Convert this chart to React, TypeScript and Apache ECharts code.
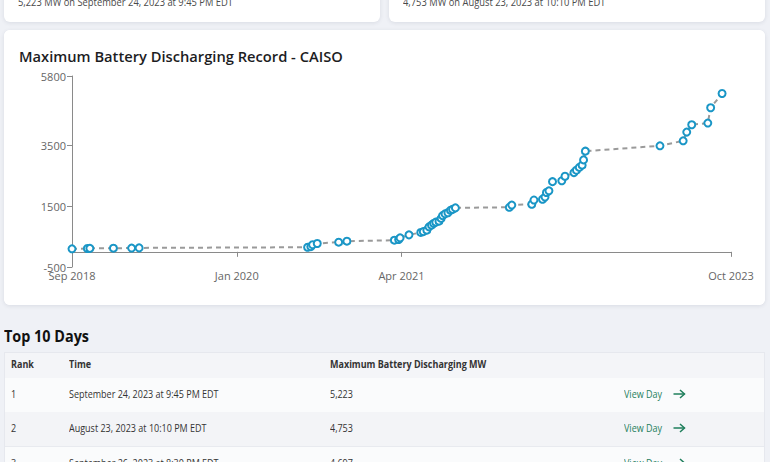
import React, { useEffect, useRef } from "react";
import * as echarts from "echarts";

// Record dates (UTC) and the record discharge value (MW) at each date
const recordDates = [
  "2018-09-29", "2018-11-11", "2018-11-18", "2019-01-23", "2019-03-15", "2019-04-05",
  "2020-07-20", "2020-07-29", "2020-08-03", "2020-08-16", "2020-10-15", "2020-11-07",
  "2021-03-20", "2021-04-01", "2021-04-05", "2021-04-30",
  "2021-06-02", "2021-06-09", "2021-06-19", "2021-06-25", "2021-07-02", "2021-07-08", "2021-07-14", "2021-07-23",
  "2021-07-29", "2021-08-02", "2021-08-09", "2021-08-17", "2021-08-24", "2021-08-30", "2021-09-07",
  "2022-02-05", "2022-02-12", "2022-04-09", "2022-04-15", "2022-05-09", "2022-05-16", "2022-05-20", "2022-05-27",
  "2022-06-06", "2022-07-02", "2022-07-11", "2022-08-05", "2022-08-12", "2022-08-20", "2022-08-28", "2022-09-01", "2022-09-06",
  "2023-04-03", "2023-06-07", "2023-06-17", "2023-07-01", "2023-08-15", "2023-08-23", "2023-09-24",
];
const recordValues = [
  100, 110, 115, 120, 125, 130,
  152, 170, 235, 275, 318, 351,
  384, 407, 460, 560,
  639, 666, 715, 825, 881, 937, 980, 1013,
  1103, 1195, 1252, 1290, 1371, 1400, 1450,
  1470, 1543, 1570, 1709, 1735, 1808, 1957, 2013,
  2315, 2344, 2493, 2613, 2692, 2785, 2858, 3033, 3321,
  3497, 3662, 3950, 4192, 4248, 4753, 5223,
];

const xAxisStart = "2018-09-29";
const xAxisEnd = "2023-10-19";
const xTickFractions = [0, 0.25, 0.5, 1];
const yMin = -500;
const yMax = 5800;
const yTickValues = [-500, 1500, 3500, 5800];

const summaryCards = [
  "5,223 MW on September 24, 2023 at 9:45 PM EDT",
  "4,753 MW on August 23, 2023 at 10:10 PM EDT",
];

const tableHeaders = ["Rank", "Time", "Maximum Battery Discharging MW", ""];
const tableRanks = ["1", "2", "3"];
const tableTimes = [
  "September 24, 2023 at 9:45 PM EDT",
  "August 23, 2023 at 10:10 PM EDT",
  "September 26, 2023 at 8:30 PM EDT",
];
const tableValues = ["5,223", "4,753", "4,697"];

const MONTHS = ["Jan", "Feb", "Mar", "Apr", "May", "Jun", "Jul", "Aug", "Sep", "Oct", "Nov", "Dec"];
const FONT = "'Open Sans', 'Noto Sans', sans-serif";

function Chart() {
  const ref = useRef<HTMLDivElement>(null);
  useEffect(() => {
    if (!ref.current) return;
    const chart = echarts.init(ref.current, null, { renderer: "svg" });
    const t0 = new Date(xAxisStart).getTime();
    const t1 = new Date(xAxisEnd).getTime();
    const xTicks = xTickFractions.map((f) => t0 + (t1 - t0) * f);
    const data = recordDates.map((d, i) => [new Date(d).getTime(), recordValues[i]]);
    chart.setOption({
      animation: false,
      backgroundColor: "#ffffff",
      title: {
        text: "Maximum Battery Discharging Record - CAISO",
        left: 10,
        top: 13,
        textStyle: { fontFamily: FONT, fontSize: 14.7, fontWeight: 600, color: "#1d1d1f" },
      },
      grid: { left: 68, right: 34, top: 46, bottom: 38 },
      xAxis: {
        type: "value",
        min: t0,
        max: t1,
        splitLine: { show: false },
        axisLine: { show: true, lineStyle: { color: "#8a8a8a", width: 1 } },
        axisTick: { show: true, customValues: xTicks, length: 5, lineStyle: { color: "#8a8a8a" } },
        axisLabel: {
          customValues: xTicks,
          color: "#666",
          fontFamily: FONT,
          fontSize: 11,
          margin: 3,
          formatter: (v: number) => {
            const d = new Date(v);
            return MONTHS[d.getUTCMonth()] + " " + d.getUTCFullYear();
          },
        },
      },
      yAxis: {
        type: "value",
        min: yMin,
        max: yMax,
        splitLine: { show: false },
        axisLine: { show: true, lineStyle: { color: "#8a8a8a", width: 1 } },
        axisTick: { show: true, customValues: yTickValues, length: 5, lineStyle: { color: "#8a8a8a" } },
        axisLabel: {
          customValues: yTickValues,
          color: "#666",
          fontFamily: FONT,
          fontSize: 11,
          margin: 6,
          formatter: (v: number) => String(v),
        },
      },
      series: [
        {
          type: "line",
          data,
          symbol: "emptyCircle",
          symbolSize: 7,
          showAllSymbol: true,
          clip: false,
          itemStyle: { color: "#1a96c6", borderWidth: 2 },
          lineStyle: { color: "#9a9a9a", width: 2, type: [5, 4] },
          z: 2,
        },
      ],
    });
    return () => chart.dispose();
  }, []);
  return <div ref={ref} style={{ width: 761, height: 275 }} />;
}

function Arrow() {
  return (
    <svg width="13" height="10" viewBox="0 0 13 10" style={{ position: "absolute", left: 49, top: 2 }}>
      <line x1="0.5" y1="5" x2="11.5" y2="5" stroke="#1f7f5c" strokeWidth="1.5" />
      <polyline points="7,1 11.5,5 7,9" fill="none" stroke="#1f7f5c" strokeWidth="1.5" />
    </svg>
  );
}

export default function App() {
  const card: React.CSSProperties = {
    position: "absolute",
    background: "#fff",
    borderRadius: 6,
    boxShadow: "0 1px 4px rgba(30,40,70,0.10)",
  };
  const cell: React.CSSProperties = {
    position: "absolute",
    fontFamily: FONT,
    fontSize: 10,
    color: "#333",
    whiteSpace: "nowrap",
    transform: "scaleX(0.9)",
    transformOrigin: "left center",
  };
  const colX = [11, 69, 330, 624];
  const rowTops = [377, 411, 446];
  return (
    <div style={{ position: "fixed", left: 0, top: 0, width: 770, height: 462, background: "#eff1f6", overflow: "hidden", fontFamily: FONT }}>
      {summaryCards.map((t, i) => (
        <div key={i} style={{ ...card, left: i === 0 ? 4 : 389, top: -40, width: 376, height: 62 }}>
          <div style={{ position: "absolute", left: 14, top: 34, fontSize: 11, color: "#4a4a4a", whiteSpace: "nowrap", transform: "scaleX(0.85)", transformOrigin: "left center" }}>{t}</div>
        </div>
      ))}
      <div style={{ ...card, left: 4, top: 30, width: 761, height: 275, overflow: "hidden" }}>
        <Chart />
      </div>
      <div style={{ position: "absolute", left: 4, top: 325, fontSize: 16, fontWeight: 700, color: "#111", whiteSpace: "nowrap", transform: "scaleX(0.9)", transformOrigin: "left center" }}>Top 10 Days</div>
      <div style={{ position: "absolute", left: 4, top: 352, width: 761, height: 130, background: "#fff", border: "1px solid #e6e8ee", boxSizing: "border-box" }}>
        <div style={{ position: "absolute", left: 0, top: 0, width: "100%", height: 25, background: "#f4f5f8", borderBottom: "1px solid #e6e8ee" }} />
        {rowTops.map((rt, i) => (
          <div key={i} style={{ position: "absolute", left: 0, top: rt - 352, width: "100%", height: 34, background: i % 2 === 0 ? "#fafbfc" : "#f3f4f7", borderBottom: "1px solid #e8eaef" }} />
        ))}
      </div>
      {tableHeaders.map((h, i) => (
        <div key={i} style={{ ...cell, left: colX[i], top: 357, fontWeight: 700, color: "#333" }}>{h}</div>
      ))}
      {rowTops.map((rt, i) => (
        <React.Fragment key={i}>
          <div style={{ ...cell, left: colX[0], top: rt + 10 }}>{tableRanks[i]}</div>
          <div style={{ ...cell, left: colX[1], top: rt + 10 }}>{tableTimes[i]}</div>
          <div style={{ ...cell, left: colX[2], top: rt + 10 }}>{tableValues[i]}</div>
          <div style={{ position: "absolute", left: colX[3], top: rt + 10, width: 70, height: 14 }}>
            <div style={{ ...cell, left: 0, top: 0, color: "#1f7f5c" }}>View Day</div>
            <Arrow />
          </div>
        </React.Fragment>
      ))}
    </div>
  );
}
